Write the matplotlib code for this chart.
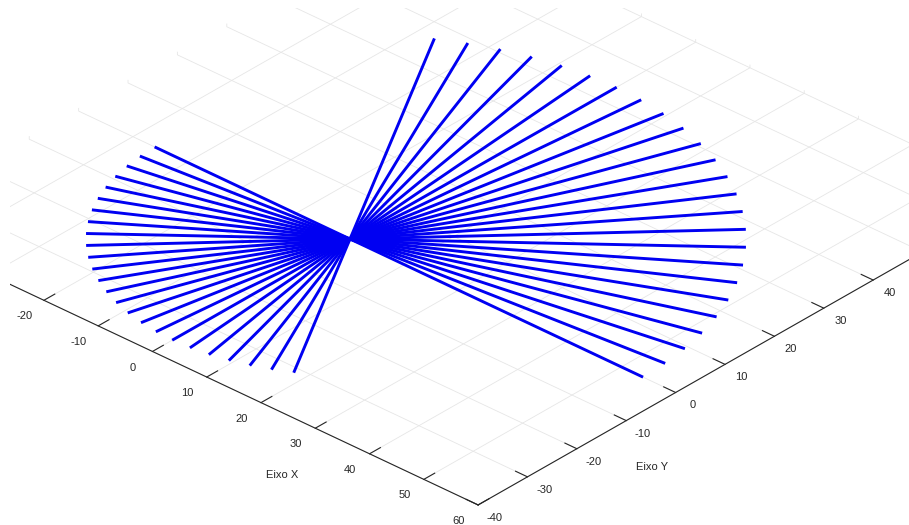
import numpy as np
import matplotlib
matplotlib.use("Agg")
import matplotlib.pyplot as plt
from matplotlib.patches import Rectangle
from mpl_toolkits.mplot3d import proj3d

# Fan of straight lines through the origin, one per angle (degrees).
angles_deg = [0, 5, 10, 15, 20, 25, 30, 35, 40, 45, 50, 55, 60,
              65, 70, 75, 80, 85, 90, 95, 100, 105, 110, 115, 120]
# Each line runs from -near_len to +far_len along its direction.
near_len = 36
far_len = 54

x_ticks = [-40, -30, -20, -10, 0, 10, 20, 30, 40, 50, 60]
y_ticks = [-40, -30, -20, -10, 0, 10, 20, 30, 40, 50, 60, 70]

plt.rcParams['font.family'] = ['Liberation Sans', 'DejaVu Sans']
plt.rcParams['axes.unicode_minus'] = False
plt.rcParams['grid.color'] = '#e6e6e6'
plt.rcParams['grid.linewidth'] = 0.6

W, H = 909, 525
fig = plt.figure(figsize=(W / 100, H / 100), dpi=100)
fig.patch.set_facecolor('white')
ax = fig.add_axes([0, 0, 1, 1], projection='3d')
ax.set_proj_type('ortho')
ax.view_init(elev=31.2, azim=-47.7)
ax.set_xlim(-50, 60)
ax.set_ylim(-40, 70)
ax.set_zlim(0, 1)
zoom = 1.0
ax.set_box_aspect((110, 110, 0.5), zoom=zoom)

for a in angles_deg:
    th = np.deg2rad(a)
    t = np.array([-near_len, far_len])
    ax.plot(t * np.cos(th), t * np.sin(th), [0, 0], color=(0, 0, 0.95),
            lw=2.1, solid_capstyle='butt', clip_on=False)

ax.set_xticks(x_ticks)
ax.set_yticks(y_ticks)
ax.set_zticks([])

dark = '#262626'
for axis in (ax.xaxis, ax.yaxis, ax.zaxis):
    axis.set_pane_color((1, 1, 1, 0))
    axis.pane.set_edgecolor((1, 1, 1, 0))
    axis._axinfo['grid'].update({'color': '#e6e6e6', 'linewidth': 0.6})
    axis._axinfo['tick']['inward_factor'] = 0.0
    axis._axinfo['tick']['outward_factor'] = 0.25
for axis in (ax.xaxis, ax.yaxis):
    axis.line.set_color(dark)
    axis.line.set_linewidth(0.8)
ax.zaxis.line.set_color((1, 1, 1, 0))
ax.tick_params(axis='x', colors=dark, labelsize=8, pad=-1)
ax.tick_params(axis='y', colors=dark, labelsize=8, pad=-2.5)


def screen(x, y, z=0):
    px, py, _ = proj3d.proj_transform(x, y, z, ax.get_proj())
    return ax.transData.transform((px, py))


# Fit the view: origin at (350, 239) px from top-left, 6.0 px per x unit.
target_origin = np.array([350, H - 239])
target_scale = 6.0
for _ in range(3):
    fig.canvas.draw()
    p0 = screen(0, 0)
    p1 = screen(10, 0)
    cur = np.hypot(*(p1 - p0)) / 10
    zoom *= target_scale / cur
    ax.set_box_aspect((110, 110, 0.5), zoom=zoom)
    fig.canvas.draw()
    p0 = screen(0, 0)
    d = (target_origin - p0) / np.array([W, H])
    pos = ax.get_position(original=True)
    ax.set_position([pos.x0 + d[0], pos.y0 + d[1], pos.width, pos.height])

fig.text(282 / W, 1 - 475 / H, 'Eixo X', ha='center', va='center',
         fontsize=8, color=dark)
fig.text(652 / W, 1 - 467 / H, 'Eixo Y', ha='center', va='center',
         fontsize=8, color=dark)

# the original picture is cut with a thin white margin on top and left
fig.add_artist(Rectangle((0, 1 - 8 / H), 1, 8 / H, transform=fig.transFigure,
                         facecolor='white', edgecolor='none', zorder=10))
fig.add_artist(Rectangle((0, 0), 10 / W, 1, transform=fig.transFigure,
                         facecolor='white', edgecolor='none', zorder=10))

fig.savefig('out.png', dpi=100, facecolor='white')
